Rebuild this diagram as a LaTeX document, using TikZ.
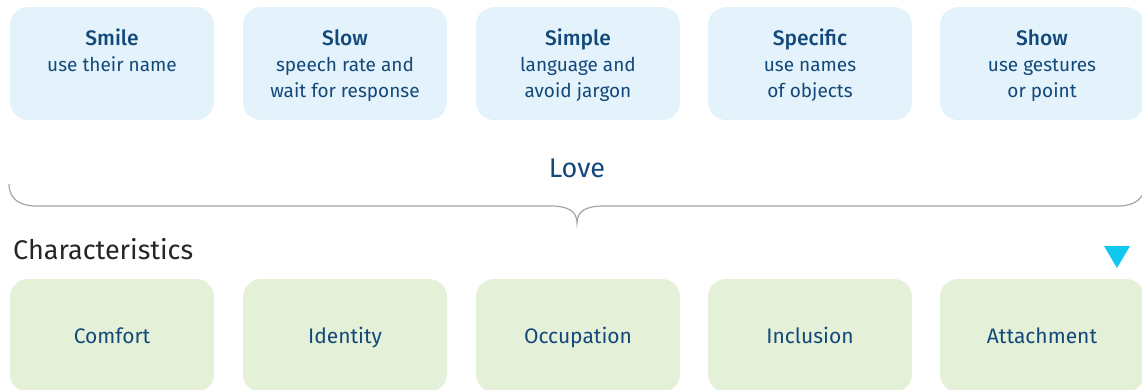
\documentclass[tikz,border=0pt]{standalone}
\usepackage{fontspec}
\setmainfont{Fira Sans}[BoldFont={Fira Sans Medium}]
\usetikzlibrary{positioning}

\definecolor{NeedFill}{RGB}{228,243,251}
\definecolor{TraitFill}{RGB}{228,241,216}
\definecolor{Ink}{RGB}{18,72,122}
\definecolor{BraceGray}{RGB}{165,165,160}
\definecolor{Marker}{RGB}{15,200,240}

\newcommand{\liftstrut}{\rule[-7.8pt]{0pt}{32pt}}
\newcommand{\needhead}[1]{\liftstrut{\fontsize{21}{26}\selectfont\bfseries #1}}

\begin{document}
\begin{tikzpicture}[x=1pt,y=-1pt]
		\tikzstyle{Box}		= [rounded corners=18pt, minimum width=204pt, minimum height=113pt, inner sep=0pt, text=Ink, align=center, font=\fontsize{19}{26}\selectfont]
		\tikzstyle{Need}	= [fill=NeedFill]
		\tikzstyle{Trait}	= [fill=TraitFill, font=\fontsize{21}{26}\selectfont]
		\tikzstyle{Brace}	= [BraceGray, line width=1.2pt]

		\useasboundingbox (0,0) rectangle (1142,389);

		% needs, top row
		\node (s1) at (112,63.5) [Box][Need] {\needhead{Smile}\\\strut use their name\\\strut};
		\node (s2) at (345,63.5) [Box][Need] {\needhead{Slow}\\\strut speech rate and\\\strut wait for response};
		\node (s3) at (578,63.5) [Box][Need] {\needhead{Simple}\\\strut language and\\\strut avoid jargon};
		\node (s4) at (810,63.5) [Box][Need] {\needhead{Specific}\\\strut use names\\\strut of objects};
		\node (s5) at (1042,63.5) [Box][Need] {\needhead{Show}\\\strut use gestures\\\strut or point};

		\node (love) at (577,168) [text=Ink, font=\fontsize{27}{32}\selectfont] {Love};

		\draw [Brace] (9,184) .. controls (9,199) and (20,206) .. (36,206) -- (550,206)
			.. controls (568,206) and (577,211) .. (577,223)
			.. controls (577,211) and (586,206) .. (604,206) -- (1118,206)
			.. controls (1134,206) and (1145,199) .. (1145,184);

		\node (chars) at (13,249) [anchor=west, inner sep=0pt, text=black!85, font=\fontsize{27}{32}\selectfont] {Characteristics};
		\fill [Marker] (1104,246) -- (1130,246) -- (1117,268) -- cycle;

		% characteristics, bottom row
		\node (c1) at (112,335.5) [Box][Trait] {\liftstrut Comfort};
		\node (c2) at (345,335.5) [Box][Trait] {\liftstrut Identity};
		\node (c3) at (578,335.5) [Box][Trait] {\liftstrut Occupation};
		\node (c4) at (810,335.5) [Box][Trait] {\liftstrut Inclusion};
		\node (c5) at (1042,335.5) [Box][Trait] {\liftstrut Attachment};
	\end{tikzpicture}
\end{document}
